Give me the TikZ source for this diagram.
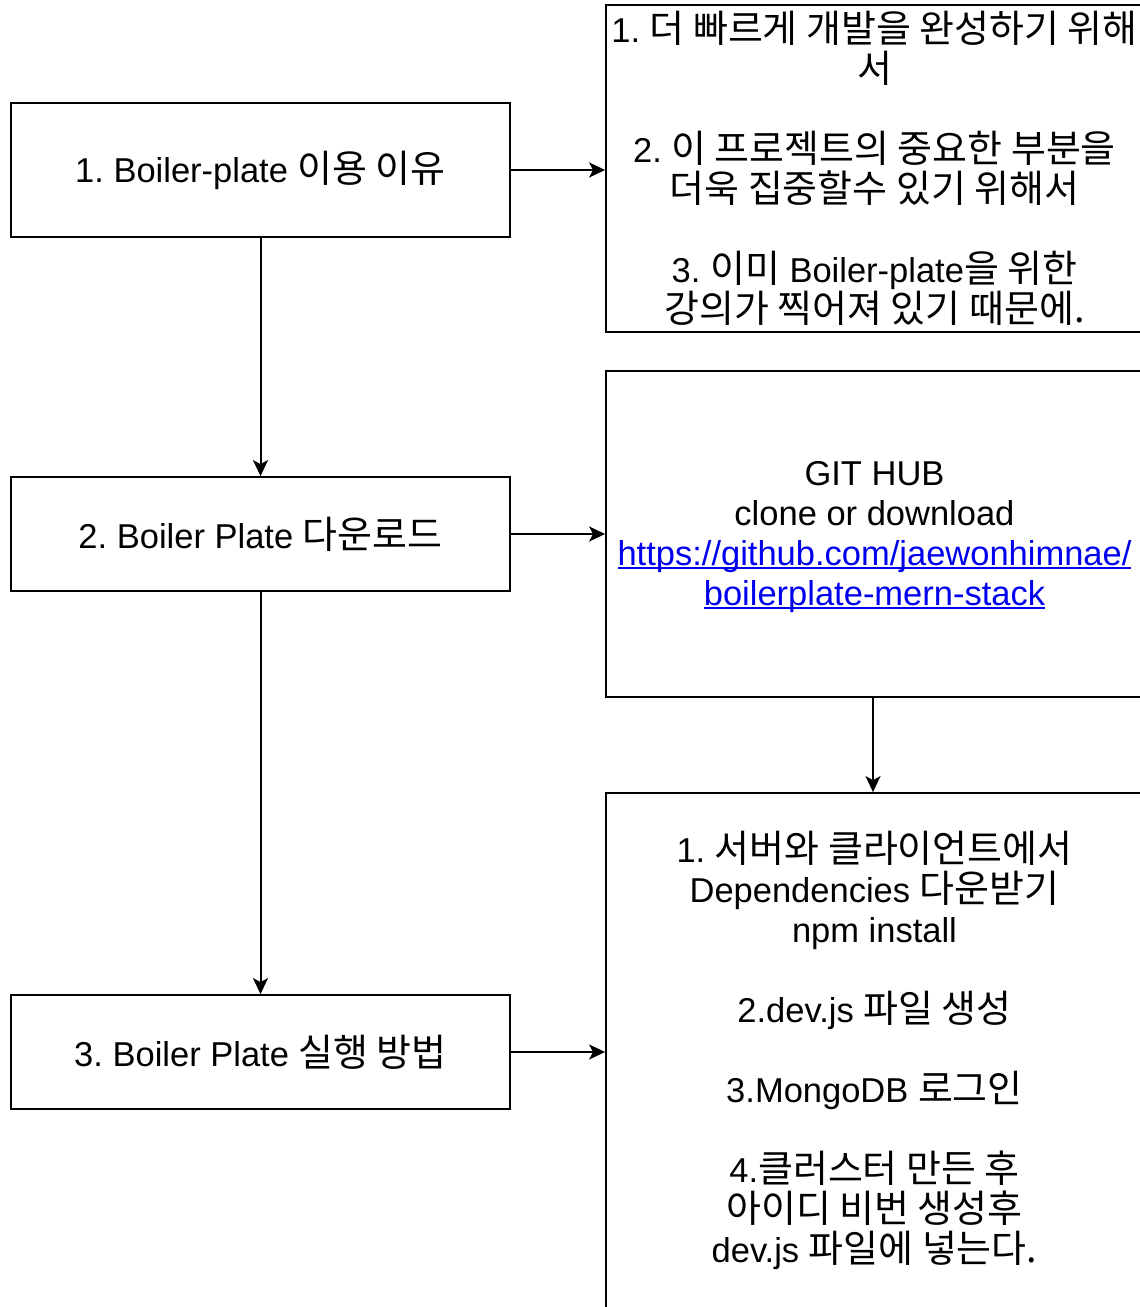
\documentclass[tikz,border=0pt]{standalone}
\usepackage{fontspec}
\setmainfont{Liberation Sans}
\newfontfamily\kr[Scale=1.1]{Noto Sans CJK KR}
\usetikzlibrary{arrows.meta}
\definecolor{linkblue}{RGB}{0,0,238}
\tikzset{
  box/.style={draw=black, line width=1.8pt, fill=white, rectangle, inner sep=0pt,
    align=center, font=\fontsize{34.5}{40}\selectfont\frenchspacing},
  arr/.style={draw=black, line width=2pt, -{Stealth[length=16pt,width=15pt,inset=4pt]}},
}
\newcommand{\lnk}[1]{\textcolor{linkblue}{\setbox0\hbox{#1}\rlap{\rule[-3.5pt]{\wd0}{1.8pt}}\box0}}
\begin{document}
\begin{tikzpicture}[x=1pt,y=-1pt]
\useasboundingbox (0,0) rectangle (1140,1307);
\clip (0,0) rectangle (1140,1307);
\node[box, minimum width=499pt, minimum height=134pt] (a) at (260.5,170)
  {1. Boiler-plate {\kr 이용 이유}};
\node[box, minimum width=499pt, minimum height=114pt] (b) at (260.5,534)
  {2. Boiler Plate {\kr 다운로드}};
\node[box, minimum width=499pt, minimum height=114pt] (c) at (260.5,1052)
  {3. Boiler Plate {\kr 실행 방법}};
\node[box, minimum width=537pt, minimum height=327pt] (d) at (874.5,168.5)
  {1. {\kr 더 빠르게 개발을 완성하기 위해}\\{\kr 서}\\[40pt]
   2. {\kr 이 프로젝트의 중요한 부분을}\\{\kr 더욱 집중할수 있기 위해서}\\[40pt]
   3. {\kr 이미} Boiler-plate{\kr 을 위한}\\{\kr 강의가 찍어져 있기 때문에.}};
\node[box, minimum width=537pt, minimum height=326pt] (e) at (874.5,534) {};
\node[align=center, inner sep=0pt, font=\fontsize{34.5}{40}\selectfont] (et) at (874.5,537)
  {GIT HUB\\clone or download\\\lnk{https://github.com/jaewonhimnae/}\\\lnk{boilerplate-mern-stack}};
\node[box, minimum width=537pt, minimum height=515pt] (f) at (874.5,1050.5)
  {1. {\kr 서버와 클라이언트에서}\\Dependencies {\kr 다운받기}\\npm install\\[40pt]
   2.dev.js {\kr 파일 생성}\\[40pt]
   3.MongoDB {\kr 로그인}\\[40pt]
   4.{\kr 클러스터 만든 후}\\{\kr 아이디 비번 생성후}\\dev.js {\kr 파일에 넣는다.}};
\draw[arr] (a.east) -- (a.east -| d.west);
\draw[arr] (b.east) -- (b.east -| e.west);
\draw[arr] (c.east) -- (c.east -| f.west);
\draw[arr] (a.south) -- (b.north);
\draw[arr] (b.south) -- (c.north);
\draw[arr] (e.south -| 873,0) -- (f.north -| 873,0);
\end{tikzpicture}
\end{document}
